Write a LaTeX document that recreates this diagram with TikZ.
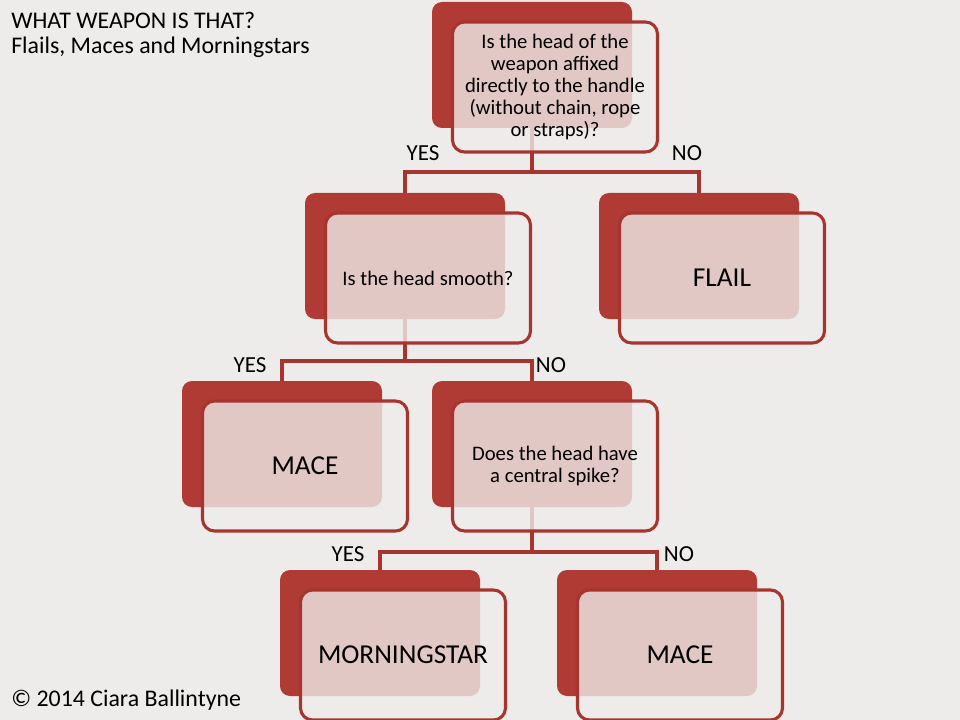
\documentclass[tikz,border=0pt]{standalone}
\usepackage{fontspec}
\setmainfont{Carlito}
\definecolor{bg}{RGB}{238,236,234}
\definecolor{wred}{RGB}{176,58,52}
\definecolor{lred}{RGB}{166,52,47}
\begin{document}
\begin{tikzpicture}[x=0.75pt,y=-0.75pt,
  back/.style={rectangle, rounded corners=7.5pt, fill=wred, minimum width=150pt, minimum height=94.5pt, inner sep=0pt},
  front/.style={rectangle, rounded corners=9pt, draw=lred, line width=2.3pt, fill=bg, fill opacity=0.8, text opacity=1, minimum width=153.75pt, minimum height=97.5pt, inner sep=0pt, align=center, font=\fontsize{15.5}{16.5}\selectfont},
  answer/.style={front, font=\fontsize{20.5}{24}\selectfont},
  conn/.style={draw=lred, line width=2.8pt},
  lab/.style={font=\fontsize{17.25}{20}\selectfont, inner sep=0pt},
  titletext/.style={font=\fontsize{17.9}{21}\selectfont, inner sep=0pt, anchor=west}
]
\useasboundingbox (0,0) rectangle (960,720);
\fill[bg] (0,0) rectangle (960,720);

% back boxes
\node[back] (q1b) at (532,65) {};
\node[back] (q2b) at (405,256) {};
\node[back] (flb) at (699,256) {};
\node[back] (m1b) at (282,444) {};
\node[back] (q3b) at (532,444) {};
\node[back] (msb) at (380,633) {};
\node[back] (m2b) at (657,633) {};

% connectors
\coordinate (j1) at (532,172);
\coordinate (j2) at (405,361);
\coordinate (j3) at (532,552);
\draw[conn] (q1b.south) -- (j1);
\draw[conn] (q2b.north) |- (j1) -| (flb.north);
\draw[conn] (q2b.south) -- (j2);
\draw[conn] (m1b.north) |- (j2) -| (q3b.north);
\draw[conn] (q3b.south) -- (j3);
\draw[conn] (msb.north) |- (j3) -| (m2b.north);

% front boxes
\node[front] (q1) at (555,87) {Is the head of the\\weapon affixed\\directly to the handle\\(without chain, rope\\or straps)?};
\node[front] (q2) at (428,278) {Is the head smooth?};
\node[answer] (fl) at (722,278) {FLAIL};
\node[answer] (m1) at (305,466) {MACE};
\node[front] (q3) at (555,466) {Does the head have\\a central spike?};
\node[answer] (ms) at (403,655) {MORNINGSTAR};
\node[answer] (m2) at (680,655) {MACE};

% labels
\node[lab] (y1) at (423,153) {YES};
\node[lab] (n1) at (687,153) {NO};
\node[lab] (y2) at (250,365) {YES};
\node[lab] (n2) at (551,365) {NO};
\node[lab] (y3) at (348,554) {YES};
\node[lab] (n3) at (679,554) {NO};

% titles
\node[titletext] (t1) at (11,20) {WHAT WEAPON IS THAT?};
\node[titletext] (t2) at (11,47) {Flails, Maces and Morningstars};
\node[titletext] (cr) at (11,700) {© 2014 Ciara Ballintyne};
\end{tikzpicture}
\end{document}
